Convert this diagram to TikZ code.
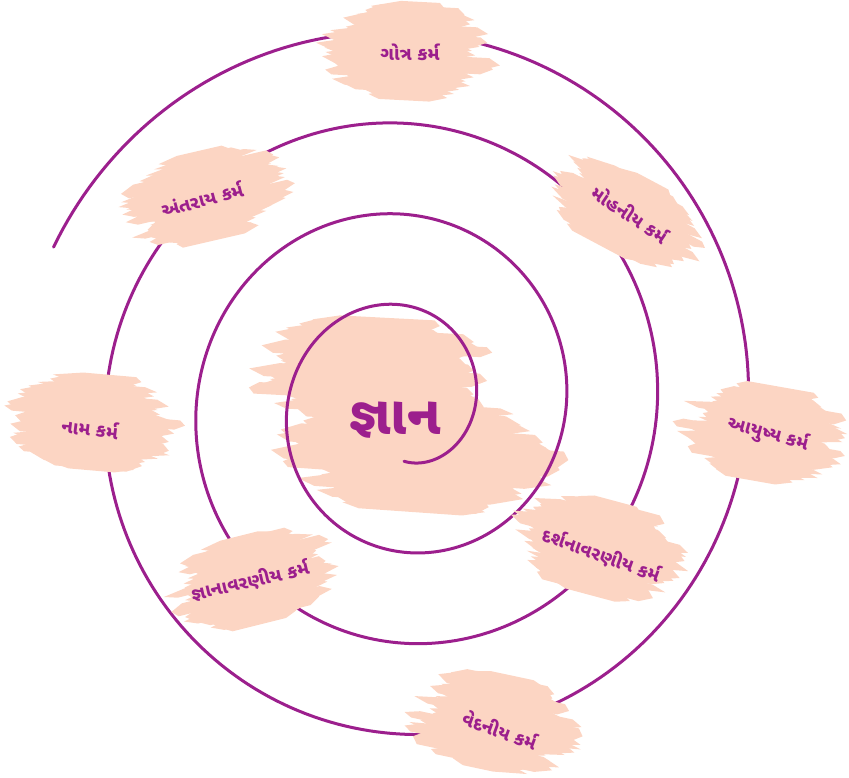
\documentclass[tikz,border=0pt]{standalone}
\usepackage{fontspec}
\usepackage{tikz}
\newfontfamily\gujfont[Script=Gujarati]{Noto Sans Gujarati UI}
\definecolor{karmapurple}{RGB}{156,31,141}
\definecolor{brushpeach}{RGB}{252,213,195}

% brush-stroke patch: centre x, centre y, width, height, angle, seed
\newcommand{\brushblob}[6]{%
  \begin{scope}[shift={(#1,#2)},rotate=#5]
    \pgfmathsetseed{#6}
    \foreach \j in {0,...,20}{
      \pgfmathsetmacro{\bbty}{-1+\j/10}
      \pgfmathsetmacro{\bbprof}{sqrt(max(0.08,1-0.75*\bbty*\bbty))}
      \pgfmathsetmacro{\bbyy}{\bbty*#4/2}
      \pgfmathsetmacro{\bblx}{-0.5*#3*\bbprof*(0.7+0.4*rnd)}
      \pgfmathsetmacro{\bbrx}{0.5*#3*\bbprof*(0.7+0.4*rnd)}
      \pgfmathsetmacro{\bbth}{#4/20*(0.9+0.7*rnd)}
      \pgfmathsetmacro{\bbta}{10+25*rnd}
      \pgfmathsetmacro{\bbtb}{10+25*rnd}
      \fill[brush] (\bblx,\bbyy) -- (\bblx+\bbta,\bbyy-\bbth) -- (\bbrx-0.5*\bbtb,\bbyy-\bbth)
        -- (\bbrx,\bbyy) -- (\bbrx-\bbtb,\bbyy+\bbth) -- (\bblx+0.5*\bbta,\bbyy+\bbth) -- cycle;
    }
  \end{scope}}

\begin{document}
\begin{tikzpicture}[
    x=1pt, y=-1pt,
    brush/.style={fill=brushpeach},
    spiralline/.style={draw=karmapurple, line width=3pt, line cap=round},
    lbl/.style={font=\gujfont\bfseries\fontsize{18.5}{20}\selectfont, text=karmapurple, inner sep=1pt},
    centrelbl/.style={font=\gujfont\bfseries\fontsize{54}{58}\selectfont, text=karmapurple}
  ]
  \useasboundingbox (0,0) rectangle (849,778);

  % centre patch under the spiral
  \brushblob{370}{370}{250}{95}{-3}{11}
  \brushblob{420}{455}{275}{105}{-4}{12}

  % spiral
  \draw[spiralline] plot[domain=-90:1236, samples=900, variable=\t]
    ({404+(71.25+0.25278*\t)*cos(\t)}, {406-(78+0.25278*\t)*sin(\t)});

  % patches over the spiral
  \brushblob{410}{52}{175}{88}{-3}{21}
  \brushblob{203}{196}{175}{82}{13}{22}
  \brushblob{622}{212}{170}{72}{-28}{23}
  \brushblob{92}{422}{175}{88}{-5}{24}
  \brushblob{765}{433}{170}{88}{-10}{25}
  \brushblob{598}{547}{175}{88}{-15}{26}
  \brushblob{253}{579}{170}{82}{14}{27}
  \brushblob{494}{722}{175}{88}{-12}{28}

  % labels
  \node[centrelbl] (gyan) at (395,420) {જ્ઞાન};
  \node[lbl] (gotra) at (410,52) {ગોત્ર કર્મ};
  \node[lbl, rotate=15] (antaray) at (202,199) {અંતરાય કર્મ};
  \node[lbl, rotate=-34] (mohaniya) at (630,214) {મોહનીય કર્મ};
  \node[lbl, rotate=-7] (naam) at (90,428) {નામ કર્મ};
  \node[lbl, rotate=-15] (aayushya) at (768,434) {આયુષ્ય કર્મ};
  \node[lbl, rotate=-20] (darshan) at (601,555) {દર્શનાવરણીય કર્મ};
  \node[lbl, rotate=13] (gyanavaran) at (250,581) {જ્ઞાનાવરણીય કર્મ};
  \node[lbl, rotate=-20] (vedaniya) at (500,730) {વેદનીય કર્મ};
\end{tikzpicture}
\end{document}
